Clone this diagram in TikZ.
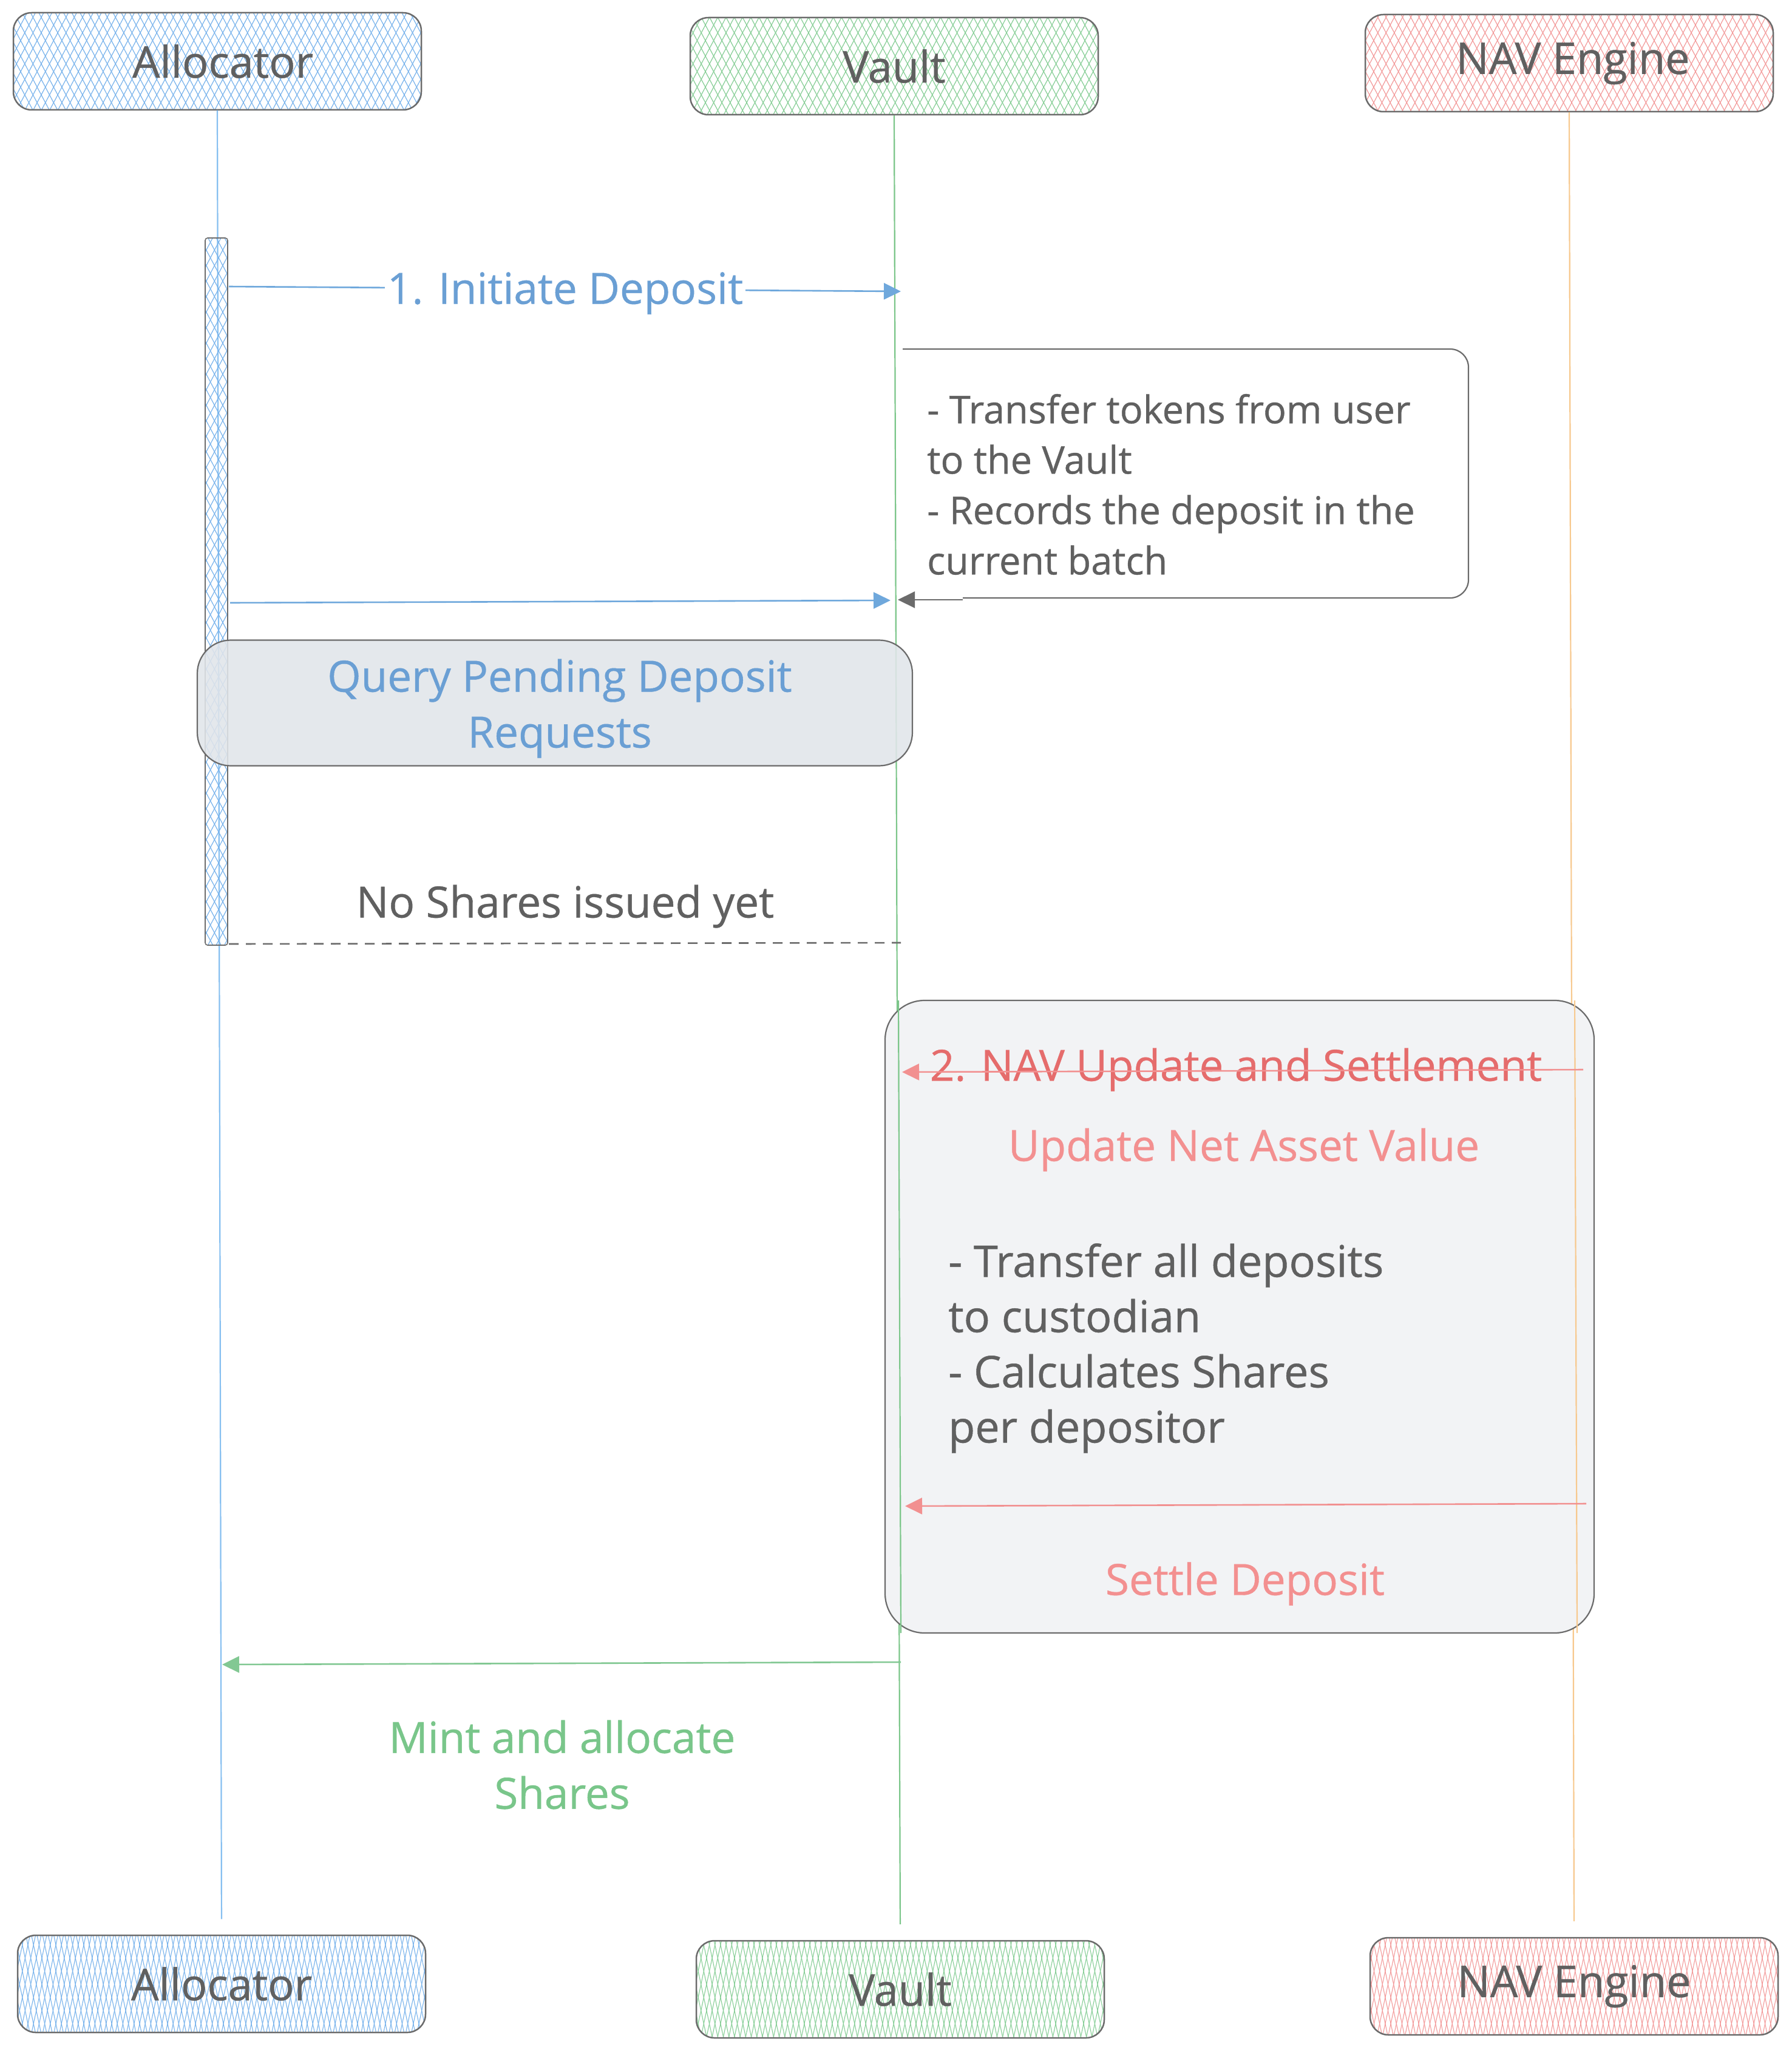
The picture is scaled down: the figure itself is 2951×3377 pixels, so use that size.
\documentclass[tikz,border=0pt]{standalone}
\usepackage{fontspec}
\setmainfont{Open Sans}[FakeBold=0.6]
\usetikzlibrary{patterns.meta,arrows.meta}
\definecolor{bordergray}{HTML}{6B6B6B}
\definecolor{textgray}{HTML}{606060}
\definecolor{hatchblue}{HTML}{78B3EC}
\definecolor{hatchgreen}{HTML}{86CE96}
\definecolor{hatchred}{HTML}{F39A9A}
\definecolor{lineblue}{HTML}{86BFF0}
\definecolor{linegreen}{HTML}{7CC68A}
\definecolor{lineorange}{HTML}{F7C98F}
\definecolor{msgblue}{HTML}{6FA8DC}
\definecolor{msggreen}{HTML}{82C893}
\definecolor{msgred}{HTML}{F29090}
\definecolor{txtblue}{HTML}{6A9FD4}
\definecolor{txtgreen}{HTML}{79C68A}
\definecolor{txtred}{HTML}{F39090}
\definecolor{txtdarkred}{HTML}{E56C6C}
\definecolor{queryfill}{HTML}{E1E5EA}
\definecolor{groupfill}{HTML}{F2F3F5}
\tikzset{
  hatchx/.style={preaction={pattern={Lines[angle=62,distance=12pt,line width=1.2pt]},pattern color=#1},
                 pattern={Lines[angle=118,distance=12pt,line width=1.2pt]},pattern color=#1},
  hatchv/.style={preaction={pattern={Lines[angle=78,distance=9pt,line width=1.1pt]},pattern color=#1},
                 pattern={Lines[angle=102,distance=9pt,line width=1.1pt]},pattern color=#1},
  participant/.style={rounded corners=30pt, draw=bordergray, line width=2.5pt,
     minimum width=672pt, minimum height=160pt, inner sep=0pt,
     font=\fontsize{72}{86}\selectfont, text=textgray},
  lifeline/.style={line width=2.2pt, draw=#1},
  msg/.style={line width=2.6pt, draw=#1, -{Triangle[length=28pt,width=27pt,fill=#1]}},
  msgtext/.style={font=\fontsize{71}{92}\selectfont, text=#1, align=center, inner sep=0pt},
  bodytext/.style={font=\fontsize{72}{91}\selectfont, text=textgray, align=left, inner sep=0pt},
  notetext/.style={font=\fontsize{63}{83}\selectfont, text=textgray, align=left, inner sep=0pt},
}
\begin{document}
\begin{tikzpicture}[x=1pt,y=-1pt]
\useasboundingbox[fill=white] (0,0) rectangle (2951,3377);

% participants top
\node[participant, hatchx=hatchblue] (allocT) at (358,101) {\hspace*{18pt}Allocator};
\node[participant, hatchx=hatchgreen] (vaultT) at (1473,109) {Vault};
\node[participant, hatchx=hatchred] (navT) at (2585,104) {\hspace*{12pt}NAV Engine};
% participants bottom
\node[participant, hatchv=hatchblue] (allocB) at (365,3268) {Allocator};
\node[participant, hatchv=hatchgreen] (vaultB) at (1483,3277) {Vault};
\node[participant, hatchv=hatchred] (navB) at (2593,3272) {NAV Engine};

% lifelines
\draw[lifeline=lineblue, shorten >=26pt] (allocT.south) -- (allocB.north);
\draw[lifeline=linegreen, shorten >=26pt] (vaultT.south) -- (vaultB.north);
\draw[lifeline=lineorange, shorten >=26pt] (navT.south) -- (navB.north);

% activation bar
\node[draw=bordergray, line width=1.6pt, rounded corners=4pt, hatchx=hatchblue,
      minimum width=37pt, minimum height=1165pt, inner sep=0pt] (act) at (356.5,974.5) {};

% message 1
\coordinate (m1s) at (377,472);
\coordinate (m1e) at (1484,480);
\draw[msg=msgblue] (m1s) -- (m1e);
\node[msgtext=txtblue, fill=white, inner xsep=4pt] (m1t) at (931,483) {1. Initiate Deposit};

% note
\draw[draw=bordergray, line width=2.2pt, rounded corners=30pt]
  (1487,575) -- (2419,575) -- (2419,985) -- (1586,985);
\coordinate (ns) at (1586,988);
\coordinate (ne) at (1479,988);
\draw[line width=2.2pt, draw=bordergray, -{Triangle[length=28pt,width=27pt,fill=bordergray]}] (ns) -- (ne);
\node[notetext, anchor=west] (note) at (1527,798) {- Transfer tokens from user\\to the Vault\\- Records the deposit in the\\current batch};

% message 2
\coordinate (m2s) at (379,993);
\coordinate (m2e) at (1467,989);
\draw[msg=msgblue] (m2s) -- (m2e);

% query box
\node[draw=bordergray, line width=2.2pt, rounded corners=55pt, fill=queryfill, fill opacity=0.88,
      minimum width=1178pt, minimum height=207pt, inner sep=0pt] (query) at (914,1158) {};
\node[msgtext=txtblue] (queryt) at (922,1167) {Query Pending Deposit\\Requests};

% no shares
\node[msgtext=textgray] (noshares) at (931,1493) {No Shares issued yet};
\coordinate (rs) at (377,1555);
\coordinate (re) at (1484,1553);
\draw[line width=2.6pt, draw=bordergray, dash pattern=on 16pt off 12pt] (rs) -- (re);

% NAV group
\node[draw=bordergray, line width=2.2pt, rounded corners=65pt, fill=groupfill,
      minimum width=1168pt, minimum height=1042pt, inner sep=0pt] (grp) at (2042,2169) {};
\draw[lifeline=linegreen] (1480,1648) -- (1484,2690);
\draw[lifeline=lineorange] (2594,1648) -- (2598,2690);

\coordinate (n1s) at (2608,1762);
\coordinate (n1e) at (1486,1766);
\node[msgtext=txtdarkred] (n1t) at (2036,1762) {2. NAV Update and Settlement};
\draw[msg=msgred] (n1s) -- (n1e);

\node[msgtext=txtred] (navupd) at (2049,1894) {Update Net Asset Value};
\node[bodytext, anchor=west] (navbody) at (1562,2221) {- Transfer all deposits\\to custodian\\- Calculates Shares\\per depositor};

\coordinate (n2s) at (2613,2477);
\coordinate (n2e) at (1491,2481);
\draw[msg=msgred] (n2s) -- (n2e);
\node[msgtext=txtred] (settle) at (2051,2609) {Settle Deposit};

% mint
\coordinate (g1s) at (1484,2738);
\coordinate (g1e) at (366,2742);
\draw[msg=msggreen] (g1s) -- (g1e);
\node[msgtext=txtgreen] (mint) at (926,2907) {Mint and allocate\\Shares};
\end{tikzpicture}
\end{document}
